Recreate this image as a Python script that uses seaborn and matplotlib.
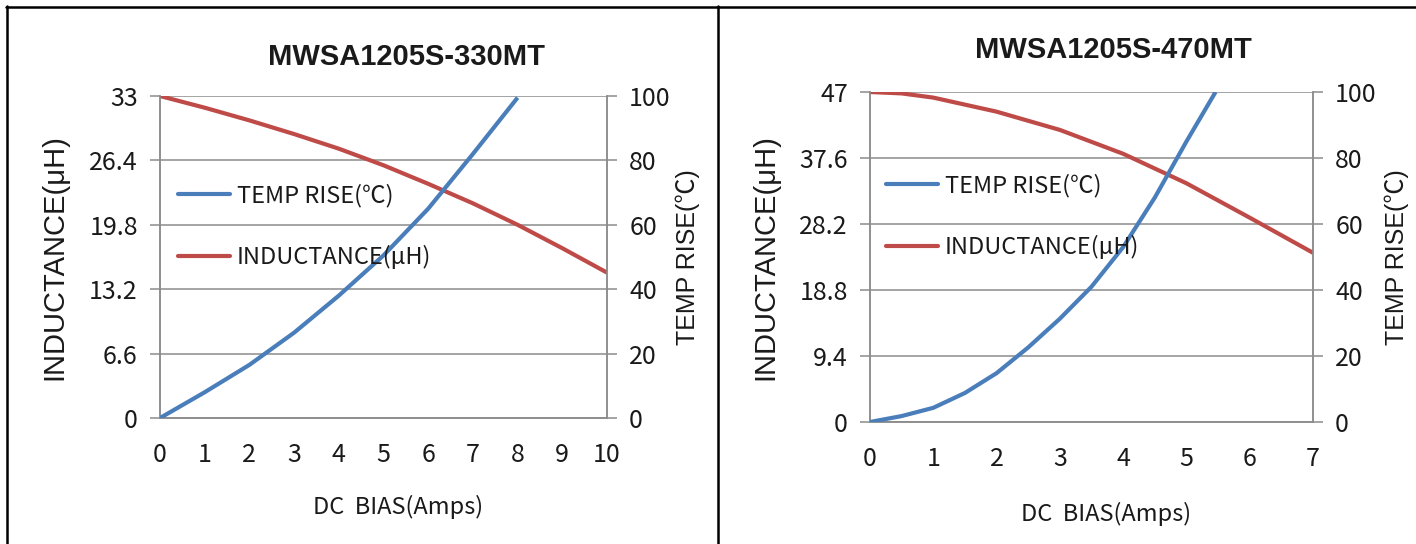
import matplotlib
matplotlib.use("Agg")
import matplotlib.pyplot as plt
from matplotlib.lines import Line2D
import seaborn as sns
import pandas as pd

# ---------------- data ----------------
titles = ["MWSA1205S-330MT", "MWSA1205S-470MT"]

# left chart (330MT)
l_ind_x = [0, 1, 2, 3, 4, 5, 6, 7, 8, 9, 10]
l_ind_y = [33.0, 31.8, 30.5, 29.1, 27.6, 25.9, 24.0, 22.0, 19.8, 17.4, 14.9]
l_tmp_x = [0, 1, 2, 3, 4, 5, 6, 7, 8]
l_tmp_y = [0, 8.0, 16.5, 26.5, 38.0, 50.5, 65.0, 82.0, 99.5]
l_xticks = [0, 1, 2, 3, 4, 5, 6, 7, 8, 9, 10]
l_yticks = [0, 6.6, 13.2, 19.8, 26.4, 33]
l_ytick_labels = ["0", "6.6", "13.2", "19.8", "26.4", "33"]

# right chart (470MT)
r_ind_x = [0, 0.5, 1, 2, 3, 4, 5, 6, 7]
r_ind_y = [47.0, 46.8, 46.2, 44.2, 41.6, 38.2, 34.0, 29.1, 24.1]
r_tmp_x = [0, 0.5, 1, 1.5, 2, 2.5, 3, 3.5, 4, 4.5, 5, 5.46]
r_tmp_y = [0, 1.8, 4.3, 8.8, 14.8, 22.6, 31.3, 41.0, 53.0, 68.0, 85.0, 100.0]
r_xticks = [0, 1, 2, 3, 4, 5, 6, 7]
r_yticks = [0, 9.4, 18.8, 28.2, 37.6, 47]
r_ytick_labels = ["0", "9.4", "18.8", "28.2", "37.6", "47"]

temp_ticks = [0, 20, 40, 60, 80, 100]
temp_label = "TEMP RISE(℃)"
ind_label = "INDUCTANCE(μH)"
x_label = "DC  BIAS(Amps)"

# ---------------- style ----------------
sns.set_style("white")
NARROW = ["Liberation Sans Narrow", "Noto Sans CJK SC", "DejaVu Sans"]
WIDE = ["Liberation Sans", "Noto Sans CJK SC", "DejaVu Sans"]
plt.rcParams["font.family"] = NARROW

BLUE = "#4A7EBB"
RED = "#BE4B48"
GRID = "#8C8C8C"
TXT = "#1a1a1a"

W, H = 1416, 544
fig = plt.figure(figsize=(W / 100, H / 100), dpi=100)


def px_rect(x0, y0, x1, y1):
    return [x0 / W, 1 - y1 / H, (x1 - x0) / W, (y1 - y0) / H]


def make_panel(rect, ix, iy, tx, ty, xticks, yticks, yticklabels, title, title_xy,
               leg_anchor, ylab_left_x, ylab_right_x, xlab_xy):
    ax = fig.add_axes(rect)
    ax2 = ax.twinx()
    df_i = pd.DataFrame({"x": ix, "y": iy})
    df_t = pd.DataFrame({"x": tx, "y": ty})
    sns.lineplot(data=df_i, x="x", y="y", ax=ax, color=RED, linewidth=3.0,
                 solid_capstyle="butt", zorder=3)
    sns.lineplot(data=df_t, x="x", y="y", ax=ax2, color=BLUE, linewidth=3.0,
                 solid_capstyle="butt", zorder=3)
    ax.set_xlim(xticks[0], xticks[-1])
    ax.set_ylim(yticks[0], yticks[-1])
    ax2.set_ylim(0, 100)
    ax.set_xticks(xticks)
    ax.set_yticks(yticks)
    ax.set_yticklabels(yticklabels)
    ax2.set_yticks(temp_ticks)
    ax.yaxis.grid(True, color=GRID, linewidth=1.1)
    ax.set_axisbelow(True)
    for a in (ax, ax2):
        for s in a.spines.values():
            s.set_color(GRID)
            s.set_linewidth(1.1)
        a.tick_params(axis="both", which="major", direction="out", length=7,
                      width=1.1, color=GRID, labelsize=18, labelcolor=TXT, pad=9)
        a.set_xlabel("")
        a.set_ylabel("")
    ax.spines["top"].set_visible(False)
    ax2.spines["top"].set_visible(False)
    ax.tick_params(axis="x", pad=10)
    fig.text(xlab_xy[0] / W, 1 - xlab_xy[1] / H, x_label, ha="center", va="center",
             fontsize=17, color=TXT)
    # y labels
    fig.text(ylab_left_x / W, (rect[1] + rect[3] / 2), ind_label, rotation=90,
             ha="center", va="center", fontsize=21, color=TXT, family=WIDE)
    fig.text(ylab_right_x / W, (rect[1] + rect[3] / 2), temp_label, rotation=90,
             ha="center", va="center", fontsize=18, color=TXT, family=WIDE)
    fig.text(title_xy[0] / W, 1 - title_xy[1] / H, title, ha="center", va="center",
             fontsize=21, fontweight="bold", color=TXT, family=WIDE)
    handles = [Line2D([], [], color=BLUE, linewidth=3.0),
               Line2D([], [], color=RED, linewidth=3.0)]
    leg = ax2.legend(handles, [temp_label, ind_label], loc="center left",
                     bbox_to_anchor=leg_anchor, frameon=False, fontsize=17,
                     handlelength=2.2, handletextpad=0.3, labelspacing=1.6,
                     borderpad=0, borderaxespad=0)
    for t in leg.get_texts():
        t.set_color(TXT)
    return ax, ax2


make_panel(px_rect(160, 96, 607, 418), l_ind_x, l_ind_y, l_tmp_x, l_tmp_y,
           l_xticks, l_yticks, l_ytick_labels, titles[0], (407, 57),
           (0.040, 0.595), 54, 688, (398, 507))
make_panel(px_rect(870, 92, 1313, 422), r_ind_x, r_ind_y, r_tmp_x, r_tmp_y,
           r_xticks, r_yticks, r_ytick_labels, titles[1], (1113, 50),
           (0.036, 0.623), 765, 1397, (1106, 514))

# panel borders
lw = 1.8
fig.add_artist(Line2D([6 / W, 1.0], [1 - 6.5 / H, 1 - 6.5 / H], transform=fig.transFigure,
                      color="black", linewidth=lw))
fig.add_artist(Line2D([7 / W, 7 / W], [0, 1 - 6 / H], transform=fig.transFigure,
                      color="black", linewidth=lw))
fig.add_artist(Line2D([718 / W, 718 / W], [0, 1 - 6 / H], transform=fig.transFigure,
                      color="black", linewidth=lw))

fig.savefig("out.png", dpi=100, facecolor="white")
